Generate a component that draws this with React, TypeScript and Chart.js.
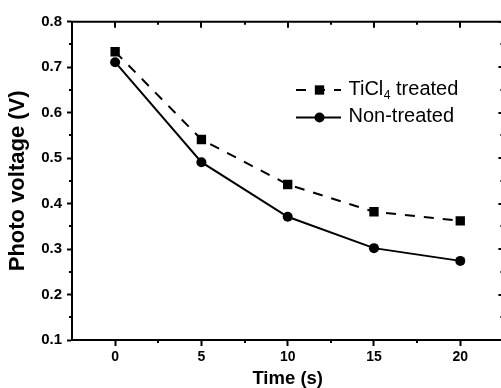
import React, { useEffect, useRef } from 'react';
import { Chart, registerables } from 'chart.js';

Chart.register(...registerables);

const times = [0, 5, 10, 15, 20];
const ticl4Treated = [0.734, 0.541, 0.442, 0.382, 0.362];
const nonTreated = [0.711, 0.491, 0.371, 0.302, 0.274];
const xTicks = [0, 5, 10, 15, 20];
const xMinorTicks = [2.5, 7.5, 12.5, 17.5];
const yTicks = [0.1, 0.2, 0.3, 0.4, 0.5, 0.6, 0.7, 0.8];
const yMinorTicks = [0.15, 0.25, 0.35, 0.45, 0.55, 0.65, 0.75];
const xRange = [-2.5, 22.5];
const yRange = [0.1, 0.8];
const seriesLabels = ['TiCl', 'Non-treated'];
const xTitle = 'Time (s)';
const yTitle = 'Photo voltage (V)';

const FONT = "'Liberation Sans', Arial, Helvetica, sans-serif";

const framePlugin = {
  id: 'frameAndLegend',
  afterDraw(chart: any) {
    const { ctx, chartArea } = chart;
    const { left, top, right, bottom } = chartArea;
    const xs = chart.scales.x;
    const ys = chart.scales.y;
    ctx.save();
    ctx.strokeStyle = '#000';
    ctx.lineWidth = 2;
    ctx.setLineDash([]);
    const line = (x1: number, y1: number, x2: number, y2: number) => {
      ctx.beginPath();
      ctx.moveTo(x1, y1);
      ctx.lineTo(x2, y2);
      ctx.stroke();
    };
    // top and right frame
    line(left - 1, top, right, top);
    line(right, top, right, bottom);
    yMinorTicks.forEach((v) => {
      const p = Math.round(ys.getPixelForValue(v));
      line(left - 3, p, left, p);
      line(right - 3, p, right, p);
    });
    yTicks.forEach((v) => {
      const p = Math.round(ys.getPixelForValue(v));
      line(right - 5, p, right, p);
    });
    xMinorTicks.forEach((v) => {
      const p = Math.round(xs.getPixelForValue(v));
      line(p, bottom, p, bottom + 3);
      line(p, top, p, top + 3);
    });
    xTicks.forEach((v) => {
      const p = Math.round(xs.getPixelForValue(v));
      line(p, top, p, top + 6);
    });

    // legend
    const ds = chart.data.datasets;
    const rows = [90, 117.5];
    const lx1 = 296;
    const lx2 = 341;
    const mx = 319.5;
    const tx = 348.5;
    ds.forEach((d: any, i: number) => {
      const yy = rows[i];
      ctx.strokeStyle = d.borderColor;
      ctx.lineWidth = d.borderWidth;
      ctx.setLineDash(d.borderDash || []);
      line(lx1, yy, lx2, yy);
      ctx.setLineDash([]);
      ctx.fillStyle = d.pointBackgroundColor;
      if (d.pointStyle === 'rect') {
        const s = Math.SQRT1_2 * d.pointRadius;
        ctx.fillRect(mx - s, yy - s, 2 * s, 2 * s);
      } else {
        ctx.beginPath();
        ctx.arc(mx, yy, d.pointRadius, 0, Math.PI * 2);
        ctx.fill();
      }
      ctx.fillStyle = '#000';
      ctx.textBaseline = 'alphabetic';
      ctx.textAlign = 'left';
      ctx.font = `20px ${FONT}`;
      const base = yy + 4.8;
      if (i === 0) {
        ctx.fillText(seriesLabels[0], tx, base);
        const w = ctx.measureText(seriesLabels[0]).width;
        ctx.font = `12px ${FONT}`;
        ctx.fillText('4', tx + w + 0.5, base + 4);
        const w2 = ctx.measureText('4').width;
        ctx.font = `20px ${FONT}`;
        ctx.fillText(' treated', tx + w + w2 + 0.5, base);
      } else {
        ctx.fillText(seriesLabels[1], tx, base);
      }
    });
    ctx.restore();
  },
};

export default function App() {
  const ref = useRef<HTMLCanvasElement | null>(null);
  useEffect(() => {
    if (!ref.current) return;
    Chart.defaults.font.family = FONT;
    Chart.defaults.color = '#000';
    const chart = new Chart(ref.current, {
      type: 'line',
      data: {
        datasets: [
          {
            label: 'TiCl4 treated',
            data: times.map((t, i) => ({ x: t, y: ticl4Treated[i] })),
            borderColor: '#000',
            borderWidth: 2,
            borderDash: [10, 9],
            pointStyle: 'rect',
            pointRadius: 6.6,
            pointBackgroundColor: '#000',
            pointBorderWidth: 0,
            pointBorderColor: '#000',
            tension: 0,
          },
          {
            label: 'Non-treated',
            data: times.map((t, i) => ({ x: t, y: nonTreated[i] })),
            borderColor: '#000',
            borderWidth: 2,
            borderDash: [],
            pointStyle: 'circle',
            pointRadius: 5,
            pointBackgroundColor: '#000',
            pointBorderWidth: 0,
            pointBorderColor: '#000',
            tension: 0,
          },
        ],
      },
      options: {
        responsive: false,
        animation: false,
        layout: { padding: { left: 0, right: 0, top: 21.7, bottom: 0 } },
        plugins: { legend: { display: false }, tooltip: { enabled: false } },
        scales: {
          x: {
            type: 'linear',
            min: xRange[0],
            max: xRange[1],
            afterBuildTicks: (s: any) => {
              s.ticks = xTicks.map((v) => ({ value: v }));
            },
            afterFit: (s: any) => {
              s.height = 48;
            },
            ticks: {
              font: { size: 14, weight: 'bold' },
              padding: 3,
              maxRotation: 0,
              callback: (v: any) => String(v),
            },
            grid: {
              drawOnChartArea: false,
              drawTicks: true,
              tickLength: 6,
              tickWidth: 2,
              tickColor: '#000',
            },
            border: { display: true, width: 2, color: '#000' },
            title: {
              display: true,
              text: xTitle,
              font: { size: 18.5, weight: 'bold', lineHeight: 1.2 },
              padding: { top: 0, bottom: -2 },
            },
          },
          y: {
            type: 'linear',
            min: yRange[0],
            max: yRange[1],
            afterBuildTicks: (s: any) => {
              s.ticks = yTicks.map((v) => ({ value: v }));
            },
            afterFit: (s: any) => {
              s.width = 72;
            },
            ticks: {
              font: { size: 15, weight: 'bold' },
              padding: 5,
              callback: (v: any) => Number(v).toFixed(1),
            },
            grid: {
              drawOnChartArea: false,
              drawTicks: true,
              tickLength: 5,
              tickWidth: 2,
              tickColor: '#000',
            },
            border: { display: true, width: 2, color: '#000' },
            title: {
              display: true,
              text: yTitle,
              font: { size: 22, weight: 'bold', lineHeight: 1.2 },
              padding: { top: 5, bottom: 0 },
            },
          },
        },
      },
      plugins: [framePlugin],
    } as any);
    return () => chart.destroy();
  }, []);
  return (
    <div
      style={{
        position: 'fixed',
        left: 0,
        top: 0,
        width: 501,
        height: 388,
        overflow: 'hidden',
        background: '#fff',
      }}
    >
      <canvas ref={ref} width={510} height={388} style={{ display: 'block' }} />
    </div>
  );
}
